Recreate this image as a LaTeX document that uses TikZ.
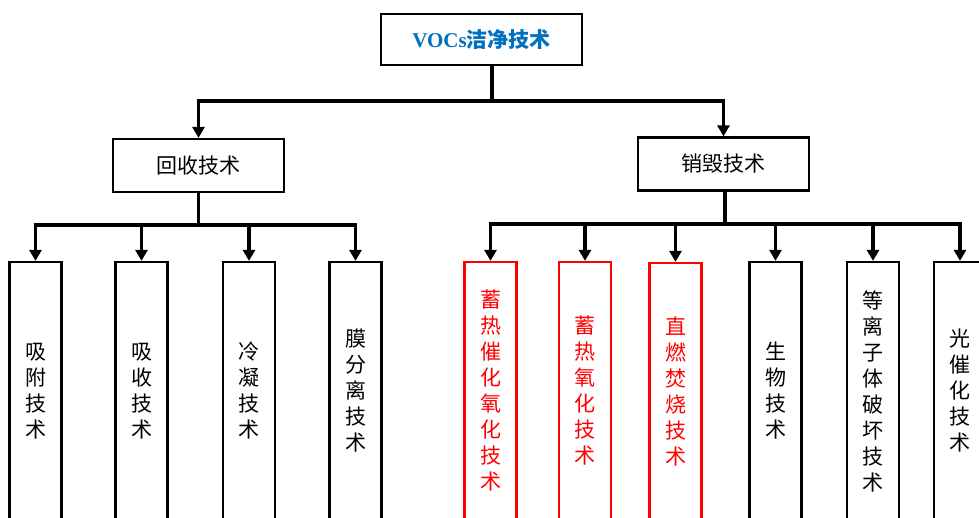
\documentclass[tikz,border=0pt]{standalone}
\usepackage{fontspec}
\setmainfont{Liberation Serif}
\newfontfamily\cjk{Noto Sans CJK SC}
\usetikzlibrary{arrows.meta}
\definecolor{vblue}{RGB}{0,112,192}
\definecolor{vred}{RGB}{255,0,0}
\begin{document}
\begin{tikzpicture}[x=1pt,y=-1pt,
  box/.style={draw, line width=2.2pt, inner sep=0pt, fill=white, align=center},
  midbox/.style={box, minimum width=171pt, minimum height=53pt, font=\cjk\fontsize{21}{24}\selectfont},
  leaf/.style={box, minimum width=52pt, minimum height=258pt, font=\cjk\fontsize{21}{26}\selectfont},
  redleaf/.style={leaf, draw=vred, text=vred},
  conn/.style={line width=3.2pt},
  arr/.style={line width=3.2pt, -{Triangle[width=12pt,length=11pt]}}]
\clip (0,0) rectangle (979,518);
\fill[white] (0,0) rectangle (979,518);

\node[box, minimum width=201pt, minimum height=51pt, text=vblue,
  font=\bfseries\fontsize{21}{24}\selectfont] (top) at (481.5,39.5) {VOCs{\cjk 洁净技术}};

\node[midbox] (rec) at (198.5,165.5) {回收技术};
\node[midbox] (des) at (723.5,164) {销毁技术};

\node[leaf] (a1) at (35.5,391) {吸\\附\\技\\术};
\node[leaf] (a2) at (141.5,391) {吸\\收\\技\\术};
\node[leaf] (a3) at (249,391) {冷\\凝\\技\\术};
\node[leaf] (a4) at (355.5,391) {膜\\分\\离\\技\\术};

\node[redleaf] (b1) at (490.5,391) {蓄\\热\\催\\化\\氧\\化\\技\\术};
\node[redleaf] (b2) at (585,391) {蓄\\热\\氧\\化\\技\\术};
\node[redleaf] (b3) at (675.5,392) {直\\燃\\焚\\烧\\技\\术};
\node[leaf] (b4) at (775.5,391) {生\\物\\技\\术};
\node[leaf] (b5) at (873,391) {等\\离\\子\\体\\破\\坏\\技\\术};
\node[leaf] (b6) at (960,391) {光\\催\\化\\技\\术};

\coordinate (busT) at (492,101);
\coordinate (busL) at (198.5,225);
\coordinate (busR) at (725,224);

\draw[conn] ([xshift=10.5pt]top.south) -- (busT);
\draw[arr] (busT) -| (rec.north);
\draw[arr] (busT) -| (des.north);

\draw[conn] (rec.south) -- (busL);
\foreach \n in {a1,a2,a3,a4} \draw[arr] (busL) -| (\n.north);

\draw[conn] ([xshift=1.5pt]des.south) -- (busR);
\foreach \n in {b1,b2,b3,b4,b5,b6} \draw[arr] (busR) -| (\n.north);
\end{tikzpicture}
\end{document}
